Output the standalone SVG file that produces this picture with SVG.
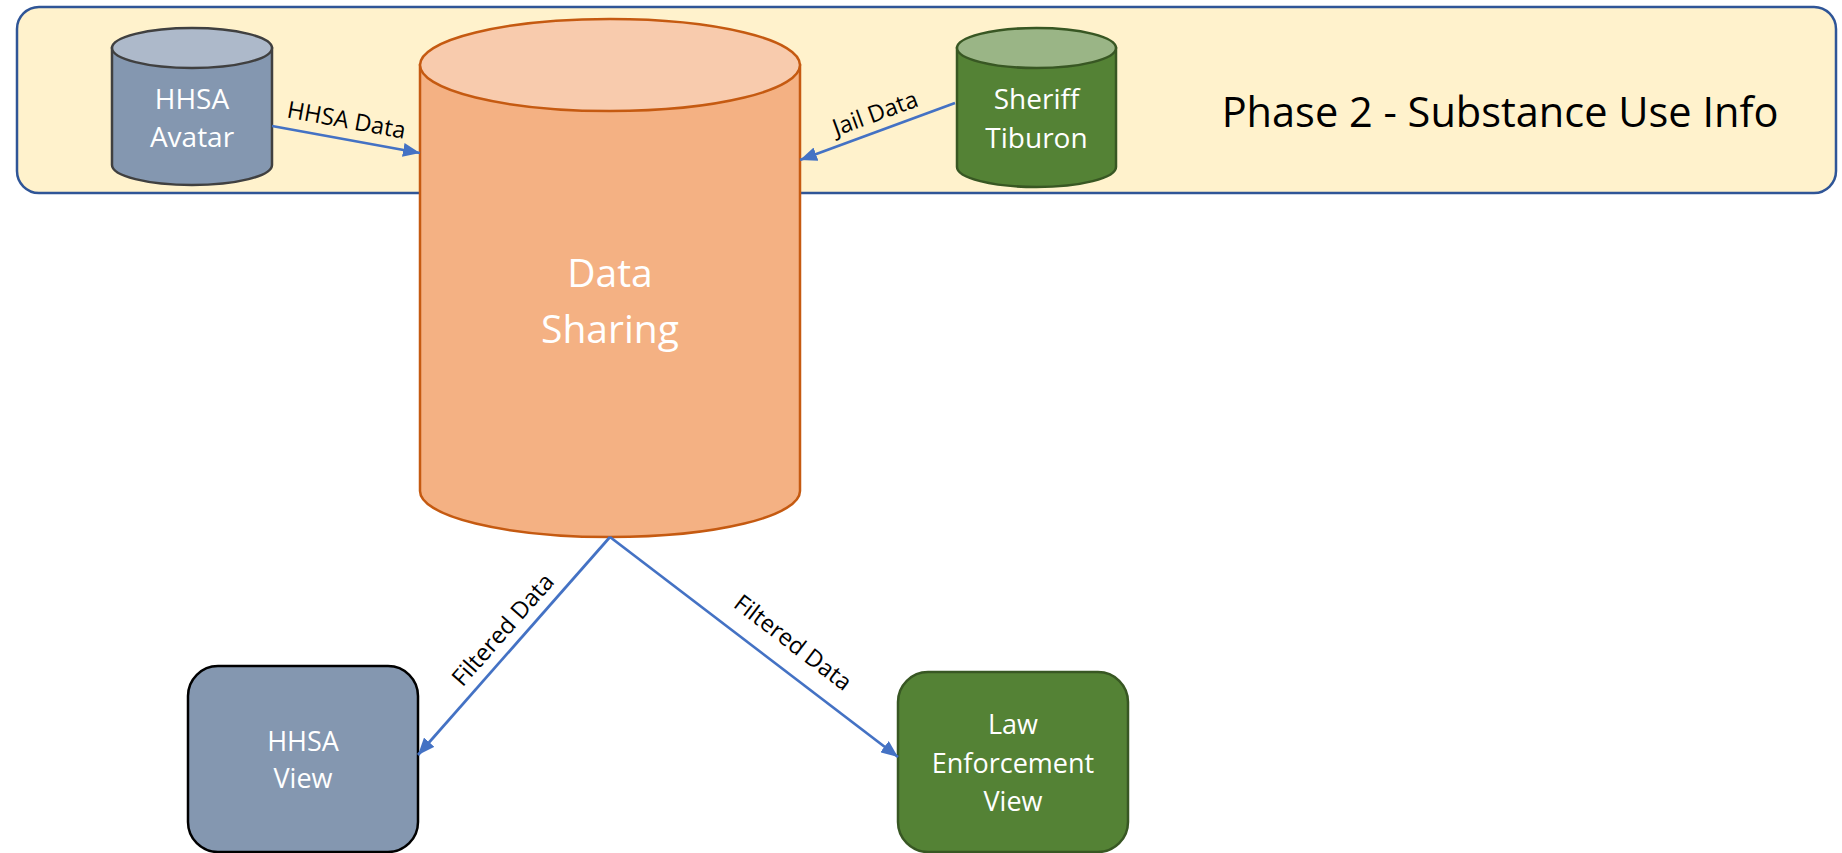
<svg xmlns="http://www.w3.org/2000/svg" width="1842" height="853" viewBox="0 0 1842 853">
  <defs>
    <style>
      .lbl { font-family: "Open Sans", "Liberation Sans", sans-serif; fill: #000000; }
      .wt { font-family: "Open Sans", "Liberation Sans", sans-serif; fill: #FFFFFF; text-anchor: middle; }
      .conn { stroke: #4472C4; stroke-width: 2.75; fill: none; marker-end: url(#arrow); }
    </style>
    <marker id="arrow" markerUnits="userSpaceOnUse" markerWidth="17" markerHeight="14" refX="17" refY="7" orient="auto">
      <path d="M0,0 L17,7 L0,14 Z" fill="#4472C4"/>
    </marker>
  </defs>
  <rect width="1842" height="853" fill="#FFFFFF"/>

  <g id="phase-banner">
    <rect x="17" y="7" width="1819" height="186" rx="22" ry="22" fill="#FFF2CC" stroke="#2F5597" stroke-width="2.5"/>
    <text class="lbl" x="1500" y="127" font-size="41.5" text-anchor="middle">Phase 2 - Substance Use Info</text>
  </g>

  <g id="hhsa-avatar">
    <path d="M112,48 V165 A80,20 0 0,0 272,165 V48 Z" fill="#8497B0" stroke="#404040" stroke-width="2.5"/>
    <ellipse cx="192" cy="48" rx="80" ry="20" fill="#ADB9CA" stroke="#404040" stroke-width="2.5"/>
    <text class="wt" x="192" y="109" font-size="28">HHSA</text>
    <text class="wt" x="192" y="147" font-size="28">Avatar</text>
  </g>

  <g id="data-sharing">
    <path d="M420,65 V491 A190,46 0 0,0 800,491 V65 Z" fill="#F4B183" stroke="#C55A11" stroke-width="2.5"/>
    <ellipse cx="610" cy="65" rx="190" ry="46" fill="#F8CBAD" stroke="#C55A11" stroke-width="2.5"/>
    <text class="wt" x="610" y="287" font-size="39">Data</text>
    <text class="wt" x="610" y="343" font-size="39">Sharing</text>
  </g>

  <g id="sheriff-tiburon">
    <path d="M957,48 V167 A79.5,20 0 0,0 1116,167 V48 Z" fill="#548235" stroke="#385723" stroke-width="2.5"/>
    <ellipse cx="1036.5" cy="48" rx="79.5" ry="20" fill="#9AB586" stroke="#385723" stroke-width="2.5"/>
    <text class="wt" x="1036.5" y="109" font-size="28">Sheriff</text>
    <text class="wt" x="1036.5" y="148" font-size="28">Tiburon</text>
  </g>

  <g id="hhsa-view">
    <rect x="188" y="666" width="230" height="186" rx="30" ry="30" fill="#8497B0" stroke="#000000" stroke-width="2.5"/>
    <text class="wt" x="303" y="751" font-size="27">HHSA</text>
    <text class="wt" x="303" y="788" font-size="27">View</text>
  </g>

  <g id="law-enforcement-view">
    <rect x="898" y="672" width="230" height="180" rx="30" ry="30" fill="#548235" stroke="#385723" stroke-width="2.5"/>
    <text class="wt" x="1013" y="734" font-size="27">Law</text>
    <text class="wt" x="1013" y="773" font-size="27">Enforcement</text>
    <text class="wt" x="1013" y="811" font-size="27">View</text>
  </g>

  <g id="connectors">
    <line class="conn" x1="272" y1="126" x2="420" y2="153"/>
    <line class="conn" x1="955" y1="103" x2="800" y2="160"/>
    <line class="conn" x1="610" y1="537" x2="418" y2="755"/>
    <line class="conn" x1="610" y1="537" x2="898" y2="757"/>
    <text class="lbl" font-size="23.5" text-anchor="middle" transform="translate(345,128) rotate(10.3)">HHSA Data</text>
    <text class="lbl" font-size="23.5" text-anchor="middle" transform="translate(878,121) rotate(-20.1)">Jail Data</text>
    <text class="lbl" font-size="23.5" text-anchor="middle" transform="translate(509,635) rotate(-48.6)">Filtered Data</text>
    <text class="lbl" font-size="23.5" text-anchor="middle" transform="translate(788,649) rotate(37.4)">Filtered Data</text>
  </g>
</svg>
